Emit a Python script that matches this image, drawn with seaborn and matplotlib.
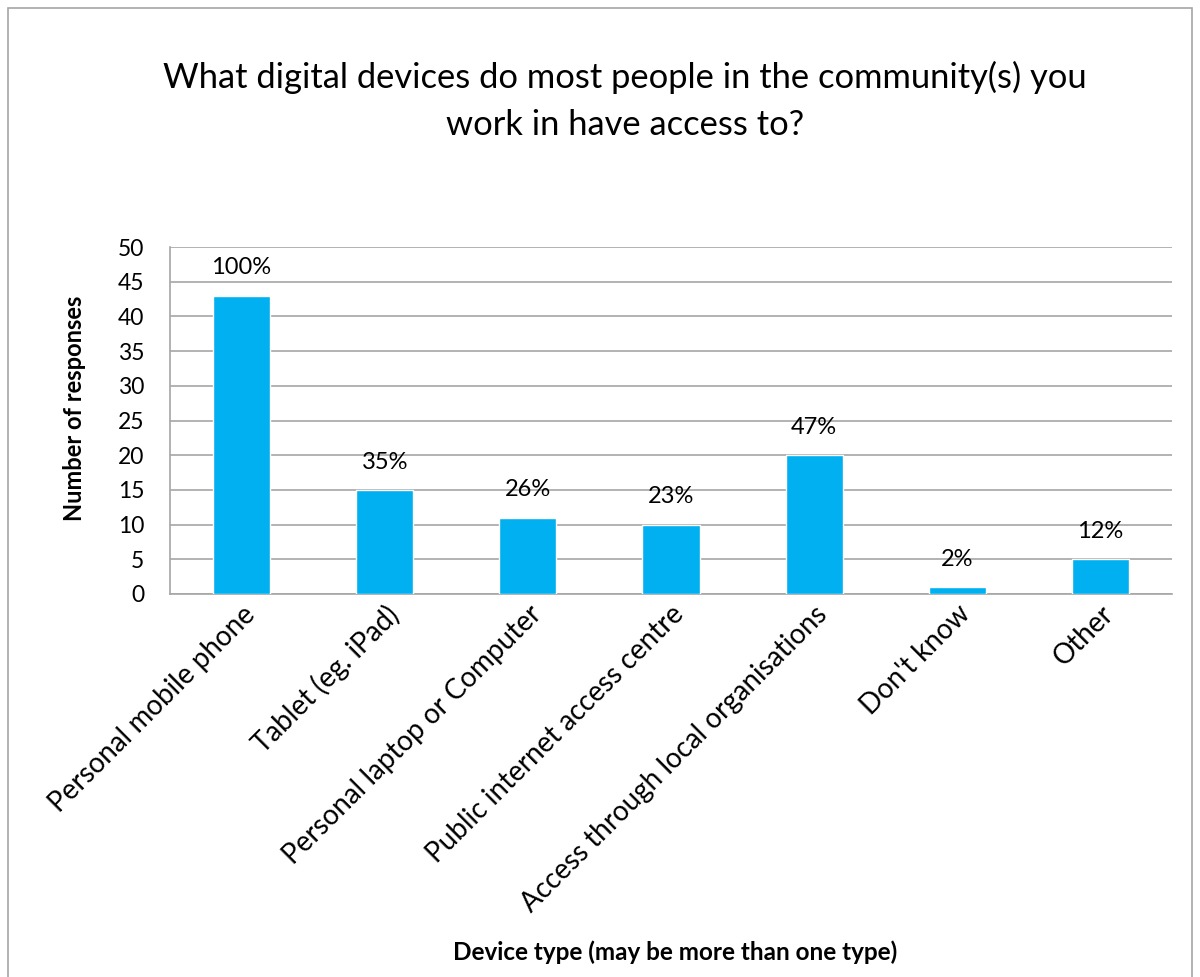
import matplotlib
matplotlib.use("Agg")
import matplotlib.pyplot as plt
import seaborn as sns
import pandas as pd
from matplotlib.patches import Rectangle

# Survey responses per device type
devices = [
    "Personal mobile phone",
    "Tablet (eg. iPad)",
    "Personal laptop or Computer",
    "Public internet access centre",
    "Access through local organisations",
    "Don't know",
    "Other",
]
responses = [43, 15, 11, 10, 20, 1, 5]
pct_labels = ["100%", "35%", "26%", "23%", "47%", "2%", "12%"]
y_ticks = [0, 5, 10, 15, 20, 25, 30, 35, 40, 45, 50]

sns.set_theme(style="white")
plt.rcParams["font.family"] = ["Lato", "DejaVu Sans"]
plt.rcParams["text.color"] = "black"
plt.rcParams["xtick.color"] = "black"
plt.rcParams["ytick.color"] = "black"
plt.rcParams["axes.labelcolor"] = "black"

df = pd.DataFrame({"device": devices, "responses": responses})

fig = plt.figure(figsize=(12, 9.77), dpi=100)
ax = fig.add_axes([170 / 1200, 1 - 594 / 977, 1002 / 1200, (594 - 247) / 977])

sns.barplot(data=df, x="device", y="responses", color="#00B0F0",
            saturation=1, width=0.4, ax=ax, zorder=3)

ax.set_ylim(0, 50)
ax.set_xlim(-0.5, len(devices) - 0.5)
ax.set_yticks(y_ticks)
ax.yaxis.grid(True, color="#a6a6a6", linewidth=1.2, zorder=0)
ax.xaxis.grid(False)

for side in ["top", "right"]:
    ax.spines[side].set_visible(False)
for side in ["left", "bottom"]:
    ax.spines[side].set_color("#a6a6a6")
    ax.spines[side].set_linewidth(1.2)

# category boundary ticks on x axis
ax.set_xticks([i - 0.5 for i in range(len(devices) + 1)], minor=True)
ax.tick_params(axis="x", which="minor", length=6.5, width=1.2, color="#a6a6a6", direction="out")
ax.tick_params(axis="x", which="major", length=0, pad=5)
ax.tick_params(axis="y", length=6.5, width=1.2, color="#a6a6a6", labelcolor="black",
               direction="out", pad=12)

ax.set_xticks(range(len(devices)))
ax.set_xticklabels(devices, rotation=45, ha="right", rotation_mode="anchor", fontsize=20)
for lbl in ax.get_yticklabels():
    lbl.set_fontsize(16.5)

for i, (v, t) in enumerate(zip(responses, pct_labels)):
    ax.annotate(t, xy=(i, v), xytext=(0, 20), textcoords="offset points",
                ha="center", va="center", fontsize=17, color="black")

ax.set_xlabel("Device type (may be more than one type)", fontsize=17.5,
              fontweight="bold", va="center")
ax.xaxis.set_label_coords((675 - 170) / 1002, -(952 - 594) / 347)
ax.set_ylabel("Number of responses", fontsize=17, fontweight="bold", va="center")
ax.yaxis.set_label_coords(-(170 - 75) / 1002, (594 - 408) / 347)

fig.text(625 / 1200, 1 - 101 / 977,
         "What digital devices do most people in the community(s) you\nwork in have access to?",
         ha="center", va="center", fontsize=24.8, linespacing=1.55)

# outer chart border
fig.patches.append(Rectangle((8 / 1200, -0.01), (1192 - 8) / 1200, 1 - 8 / 977 + 0.01,
                             transform=fig.transFigure, fill=False,
                             edgecolor="#a6a6a6", linewidth=1.2))

fig.savefig("out.png", dpi=100)
